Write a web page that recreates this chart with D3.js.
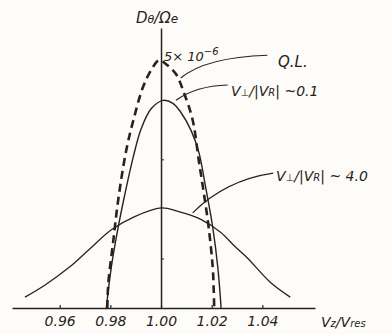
<!DOCTYPE html>
<html>
<head>
<meta charset="utf-8">
<script src="https://cdn.jsdelivr.net/npm/d3@7"></script>
<style>
    body { margin: 0; background: #fdfcf8; }
    svg { display: block; }
    .hand { font-family: "DejaVu Sans", sans-serif; font-style: italic; fill: #262220; }
</style>
</head>
<body>
<div id="chart"></div>
<script>
// Tick labels on the Vz/Vres axis
const xTicks = [0.96, 0.98, 1.00, 1.02, 1.04];
const yTicks = [1, 3];

// Quasi-linear diffusion (dashed), units of 1e-6
const qlX = [0.9788, 0.9792, 0.9812, 0.9831, 0.9863, 0.9894, 0.9929, 0.9961, 0.9992, 1.0020, 1.0059, 1.0090, 1.0125, 1.0149, 1.0169, 1.0188, 1.0204, 1.0208, 1.0210];
const qlY = [0, 0.50, 1.37, 2.18, 3.19, 3.85, 4.46, 4.80, 5.00, 4.92, 4.72, 4.35, 3.79, 2.98, 2.32, 1.63, 0.83, 0.36, 0];

// V_perp/|V_R| ~ 0.1
const narrowX = [0.9784, 0.9804, 0.9831, 0.9855, 0.9890, 0.9922, 0.9961, 1.0008, 1.0047, 1.0078, 1.0118, 1.0149, 1.0176, 1.0204, 1.0224, 1.0235, 1.0237];
const narrowY = [0, 0.83, 1.63, 2.24, 3.04, 3.62, 4.02, 4.19, 4.13, 3.95, 3.59, 3.15, 2.44, 1.63, 0.83, 0.16, 0];

// V_perp/|V_R| ~ 4.0
const broadX = [0.9463, 0.9541, 0.9635, 0.9714, 0.9804, 0.9894, 1.0000, 1.0067, 1.0157, 1.0235, 1.0294, 1.0341, 1.0431, 1.0510];
const broadY = [0.22, 0.46, 0.81, 1.17, 1.58, 1.84, 2.02, 1.95, 1.79, 1.53, 1.23, 1.01, 0.52, 0.22];

const W = 392, H = 334;
const svg = d3.select('#chart').append('svg')
    .attr('width', W)
    .attr('height', H);

// Scales: 1.00 sits at x=160, 0.02 per 51px
const x = d3.scaleLinear().domain([0.94118, 1.06078]).range([12, 315]);
const y = d3.scaleLinear().domain([0, 5.65]).range([308, 28]);

const ink = '#262220';

// Horizontal axis
const xAxis = d3.axisBottom(x)
    .tickValues(xTicks)
    .tickFormat(d3.format('.2f'))
    .tickSizeInner(-3)
    .tickSizeOuter(0)
    .tickPadding(8);

const gx = svg.append('g')
    .attr('transform', `translate(0,${y(0)})`)
    .call(xAxis);
gx.select('.domain').attr('stroke', ink).attr('stroke-width', 1.6);
gx.selectAll('.tick line').attr('stroke', ink).attr('stroke-width', 1.2);
gx.selectAll('.tick text')
    .attr('class', 'hand')
    .attr('font-size', 14)
    .attr('fill', ink);

// Vertical axis at 1.00
const yAxis = d3.axisRight(y)
    .tickValues(yTicks)
    .tickFormat('')
    .tickSizeInner(3)
    .tickSizeOuter(0);

const gy = svg.append('g')
    .attr('transform', `translate(${x(1.00)},0)`)
    .call(yAxis);
gy.select('.domain').attr('stroke', ink).attr('stroke-width', 1.5);
gy.selectAll('.tick line').attr('stroke', ink).attr('stroke-width', 1);

// Curves
const line = d3.line()
    .x(d => x(d[0]))
    .y(d => y(d[1]))
    .curve(d3.curveCatmullRom.alpha(0.5));

const zip = (a, b) => a.map((v, i) => [v, b[i]]);

svg.append('path')
    .datum(zip(broadX, broadY))
    .attr('d', line)
    .attr('fill', 'none')
    .attr('stroke', ink)
    .attr('stroke-width', 1.3);

svg.append('path')
    .datum(zip(narrowX, narrowY))
    .attr('d', line)
    .attr('fill', 'none')
    .attr('stroke', ink)
    .attr('stroke-width', 1.4);

svg.append('path')
    .datum(zip(qlX, qlY))
    .attr('d', line)
    .attr('fill', 'none')
    .attr('stroke', ink)
    .attr('stroke-width', 2.6)
    .attr('stroke-dasharray', '8,5');

// Leader lines (start, control, end in data units)
const leaders = [
    [[1.0078, 4.64], [1.0176, 5.06], [1.0420, 5.10]],
    [[1.0059, 4.19], [1.0137, 4.48], [1.0263, 4.50]],
    [[1.0125, 1.92], [1.0255, 2.58], [1.0443, 2.72]]
];

leaders.forEach(p => {
    const path = d3.path();
    path.moveTo(x(p[0][0]), y(p[0][1]));
    path.quadraticCurveTo(x(p[1][0]), y(p[1][1]), x(p[2][0]), y(p[2][1]));
    svg.append('path')
        .attr('d', path.toString())
        .attr('fill', 'none')
        .attr('stroke', ink)
        .attr('stroke-width', 1.2);
});

// Labels
const yLabel = svg.append('text')
    .attr('class', 'hand')
    .attr('x', 136)
    .attr('y', 23)
    .attr('font-size', 15);
yLabel.append('tspan').text('D');
yLabel.append('tspan').attr('font-size', 11).text('θ');
yLabel.append('tspan').text('/Ω');
yLabel.append('tspan').attr('font-size', 12).text('e');

const peak = svg.append('text')
    .attr('class', 'hand')
    .attr('x', 164)
    .attr('y', 61)
    .attr('font-size', 13);
peak.append('tspan').text('5× 10');
peak.append('tspan').attr('font-size', 10).attr('dy', -6).text('−6');

svg.append('text')
    .attr('class', 'hand')
    .attr('x', 278)
    .attr('y', 67)
    .attr('font-size', 15)
    .text('Q.L.');

const lab1 = svg.append('text')
    .attr('class', 'hand')
    .attr('x', 231)
    .attr('y', 96)
    .attr('font-size', 14);
lab1.append('tspan').text('V');
lab1.append('tspan').attr('font-size', 10).text('⊥');
lab1.append('tspan').text('/|V');
lab1.append('tspan').attr('font-size', 10).text('R');
lab1.append('tspan').text('| ~0.1');

const lab2 = svg.append('text')
    .attr('class', 'hand')
    .attr('x', 276)
    .attr('y', 181)
    .attr('font-size', 14);
lab2.append('tspan').text('V');
lab2.append('tspan').attr('font-size', 10).text('⊥');
lab2.append('tspan').text('/|V');
lab2.append('tspan').attr('font-size', 10).text('R');
lab2.append('tspan').text('| ~ 4.0');

const xLabel = svg.append('text')
    .attr('class', 'hand')
    .attr('x', 321)
    .attr('y', 327)
    .attr('font-size', 14);
xLabel.append('tspan').text('V');
xLabel.append('tspan').attr('font-size', 10).text('z');
xLabel.append('tspan').text('/V');
xLabel.append('tspan').attr('font-size', 10).text('res');
</script>
</body>
</html>
